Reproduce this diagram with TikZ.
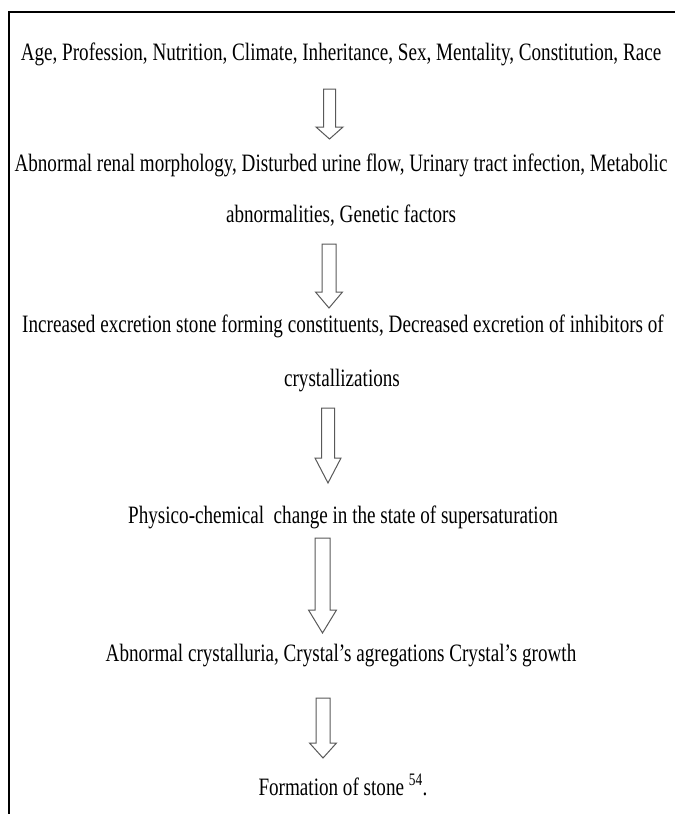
\documentclass[tikz,border=0pt]{standalone}
\usepackage{fontspec}
\setmainfont{Liberation Serif}[FakeStretch=0.765]
\newcommand\BlkArrow[7]{% #1 name, #2 cx, #3 top, #4 head start, #5 tip, #6 shaft half, #7 head half
  \coordinate (#1top) at (#2,#3);
  \coordinate (#1tip) at (#2,#5);
  \draw[blk] (#1top) ++(-#6,0) -- ++(0,{#4-#3}) -- ++({#6-#7},0) -- (#1tip)
    -- ++(#7,{#4-#5}) -- ++({#6-#7},0) -- ++(0,{#3-#4}) -- cycle;
}
\begin{document}
\begin{tikzpicture}[x=1pt,y=-1pt,
  txt/.style={anchor=base,inner sep=0pt,font=\fontsize{25}{30}\selectfont},
  blk/.style={draw=black!65,fill=white,line width=1pt,line join=miter},
  frame/.style={draw=black,line width=2pt}]
\useasboundingbox (0,0) rectangle (675,814);
\coordinate (frameBL) at (9,814);
\coordinate (frameTR) at (675,12);
\draw[frame] (frameBL) |- (frameTR);

\node[txt] (t1) at (341,60) {Age, Profession, Nutrition, Climate, Inheritance, Sex, Mentality, Constitution, Race};
\node[txt] (t2) at (341,171) {Abnormal renal morphology, Disturbed urine flow, Urinary tract infection, Metabolic};
\node[txt] (t3) at (341,222) {abnormalities, Genetic factors};
\node[txt] (t4) at (343,332) {Increased excretion stone forming constituents, Decreased excretion of inhibitors of};
\node[txt] (t5) at (342,386) {crystallizations};
\node[txt] (t6) at (343,523) {Physico-chemical\ \ change in the state of supersaturation};
\node[txt] (t7) at (341,661) {Abnormal crystalluria, Crystal’s agregations Crystal’s growth};
\node[txt] (t8) at (343,795) {Formation of stone \textsuperscript{54}.};

\BlkArrow{a1}{329.5}{89}{127}{139}{6}{13.5}
\BlkArrow{a2}{329}{244}{292}{308}{7}{13.5}
\BlkArrow{a3}{328}{408}{458}{483}{6.5}{13}
\BlkArrow{a4}{322.5}{538}{610}{633}{7.5}{14}
\BlkArrow{a5}{323}{698}{743}{758}{7}{13.5}
\end{tikzpicture}
\end{document}
